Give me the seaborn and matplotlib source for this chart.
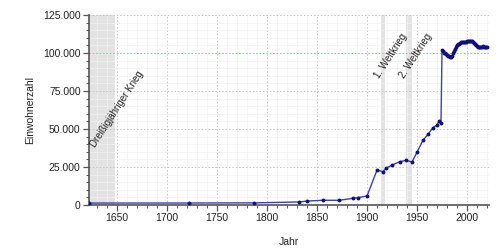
import matplotlib
matplotlib.use("Agg")
import matplotlib.pyplot as plt
import matplotlib.ticker as mticker
import seaborn as sns
import pandas as pd

years = [1622, 1722, 1787, 1832, 1840, 1856, 1872, 1886, 1891, 1900,
         1910, 1916, 1919, 1925, 1933, 1939, 1945, 1950, 1956, 1961,
         1966, 1970, 1972, 1974,
         1975, 1976, 1977, 1978, 1979, 1980, 1981, 1982, 1983, 1984,
         1985, 1986, 1987, 1988, 1989, 1990, 1991, 1992, 1993, 1994,
         1995, 1996, 1997, 1998, 1999, 2000, 2001, 2002, 2003, 2004,
         2005, 2006, 2007, 2008, 2009, 2010, 2011, 2012, 2013, 2014,
         2015, 2016, 2017, 2018, 2019, 2020]
population = [1300, 1300, 1400, 2000, 2600, 3100, 3100, 4400, 4900, 5900,
              23000, 21900, 24100, 26300, 28500, 29400, 28300, 34700, 42600, 46500,
              50900, 52600, 55300, 54000,
              101800, 101000, 100300, 99700, 99100, 98600, 98200, 97900, 97600, 97400,
              98200, 99800, 101300, 102800, 104000, 105000, 105600, 106100, 106600, 107000,
              107200, 107300, 107300, 107400, 107500, 107600, 107800, 108000, 108100, 108000,
              107600, 107100, 106500, 105800, 105200, 104600, 104100, 103800, 103700, 103900,
              104200, 104300, 104200, 104100, 104200, 104200]

wars = [("Dreißigjähriger Krieg", 1618, 1648), ("1. Weltkrieg", 1914, 1918), ("2. Weltkrieg", 1939, 1945)]

df = pd.DataFrame({"Jahr": years, "Einwohnerzahl": population})

sns.set_theme(style="white")
plt.rcParams['font.family'] = ['Liberation Sans', 'DejaVu Sans']

fig = plt.figure(figsize=(5, 2.5), dpi=100)
ax = fig.add_axes([0.178, 0.18, 0.8, 0.76])

x0, x1 = 1622, 2022
ax.set_xlim(x0, x1)
ax.set_ylim(0, 125000)

ax.xaxis.set_major_locator(mticker.MultipleLocator(50))
ax.xaxis.set_minor_locator(mticker.MultipleLocator(10))
ax.yaxis.set_major_locator(mticker.MultipleLocator(25000))
ax.yaxis.set_minor_locator(mticker.MultipleLocator(5000))
ax.yaxis.set_major_formatter(mticker.FuncFormatter(lambda v, p: f"{int(v):,}".replace(",", ".")))

ax.grid(which="minor", color="#f1f1f1", linewidth=0.5, linestyle="-", zorder=0)
ax.grid(which="major", color="#c4c4c4", linewidth=0.7, linestyle=(0, (1.5, 2)), zorder=0)
ax.set_axisbelow(True)

for name, a, b in wars:
    ax.axvspan(max(a, x0), b, color="#e3e3e3", zorder=0.5, linewidth=0)

ax.axhline(100000, color="#e8a0a0", linewidth=0.7, linestyle=(0, (1.5, 2)), zorder=0.6)

sns.lineplot(data=df, x="Jahr", y="Einwohnerzahl", ax=ax, color="#4040a8",
             linewidth=1.0, marker="o", markersize=2.8, markeredgewidth=0,
             markerfacecolor="#10107a", zorder=3)

ax.text(1630, 37000, wars[0][0], rotation=57, fontsize=7, color="#222222",
        ha="left", va="bottom", rotation_mode="anchor")
ax.text(1914, 82500, wars[1][0], rotation=57, fontsize=7, color="#222222",
        ha="left", va="bottom", rotation_mode="anchor")
ax.text(1939, 82500, wars[2][0], rotation=57, fontsize=7, color="#222222",
        ha="left", va="bottom", rotation_mode="anchor")

for s in ["top", "right"]:
    ax.spines[s].set_visible(False)
for s in ["left", "bottom"]:
    ax.spines[s].set_color("#555555")
    ax.spines[s].set_linewidth(1.2)

ax.tick_params(which="major", direction="out", length=4, width=0.9, color="#555555",
               labelsize=7.5, labelcolor="#222222", left=True, bottom=True, pad=2)
ax.tick_params(which="minor", direction="out", length=2.5, width=0.7, color="#555555",
               left=True, bottom=True)

ax.set_xlabel("Jahr", fontsize=7.5, color="#222222", labelpad=10)
ax.set_ylabel("Einwohnerzahl", fontsize=7.5, color="#222222", labelpad=6)

fig.savefig("out.png", dpi=100)
